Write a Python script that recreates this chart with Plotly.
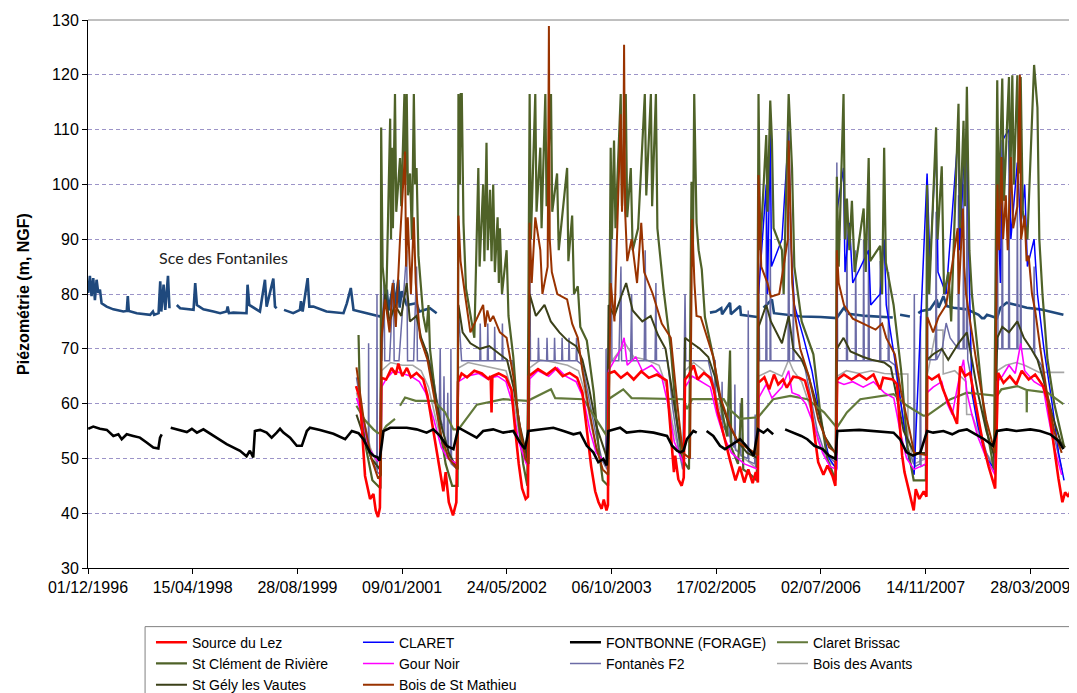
import plotly.graph_objects as go

# ---------------- data (date, level m NGF) ----------------
FONTANILES = [
    ("1996-12-02", 80.2), ("1996-12-10", 83.3), ("1996-12-18", 79.6), ("1996-12-26", 82.9), ("1997-01-03", 78.9),
    ("1997-01-11", 82.6), ("1997-01-19", 80.2), ("1997-01-27", 80.8), ("1997-02-04", 78.3), ("1997-02-28", 77.7),
    ("1997-04-01", 77.2), ("1997-05-19", 76.8), ("1997-06-04", 76.9), ("1997-06-09", 79.6), ("1997-06-14", 76.9),
    ("1997-07-22", 76.5), ("1997-09-24", 76.2), ("1997-10-07", 76.8), ("1997-10-13", 76.2), ("1997-11-03", 76.5),
    ("1997-11-11", 82.3), ("1997-11-16", 76.8), ("1997-11-27", 81.7), ("1997-12-05", 77.1), ("1997-12-18", 83.3),
    ("1997-12-25", 77.4), ("1998-01-10", None),
    ("1998-01-29", 78.0), ("1998-02-14", 77.4), ("1998-04-19", 77.1), ("1998-04-27", 82.0), ("1998-05-05", 78.0),
    ("1998-06-05", 77.2), ("1998-07-23", 76.8), ("1998-08-24", 76.5), ("1998-09-24", 76.8), ("1998-09-29", 77.7),
    ("1998-10-05", 76.5), ("1998-10-26", 76.6), ("1998-12-28", 76.5), ("1999-01-02", 81.7), ("1999-01-10", 78.0),
    ("1999-03-02", 76.8), ("1999-03-26", 82.6), ("1999-04-03", 77.7), ("1999-05-05", 82.8), ("1999-05-13", 77.7),
    ("1999-05-21", 77.4), ("1999-06-08", None),
    ("1999-06-25", 77.1), ("1999-08-08", 76.5), ("1999-09-09", 77.1), ("1999-09-14", 78.7), ("1999-09-22", 76.8),
    ("1999-10-16", 82.9), ("1999-10-24", 77.7), ("1999-11-12", 77.7), ("2000-01-14", 76.8), ("2000-04-04", 76.5),
    ("2000-04-20", 78.3), ("2000-05-09", 81.1), ("2000-05-22", 77.1), ("2000-06-23", 76.8), ("2000-08-25", 76.2),
    ("2000-09-26", 75.9), ("2000-10-12", 76.8), ("2000-10-28", 80.8), ("2000-11-05", 77.0), ("2000-11-29", 82.0),
    ("2000-12-05", 77.5), ("2000-12-22", 82.6), ("2000-12-28", 77.5), ("2001-01-07", 80.5), ("2001-01-31", 78.0),
    ("2001-03-19", 78.3), ("2001-04-01", 76.8), ("2001-05-22", 77.4), ("2001-06-23", 76.5), ("2001-07-15", None),
    ("2005-01-18", 76.6), ("2005-02-15", 76.8), ("2005-03-13", 77.4), ("2005-03-17", 76.3), ("2005-04-24", 78.4),
    ("2005-04-28", 76.3), ("2005-06-11", 77.8), ("2005-06-15", 76.2), ("2005-09-01", 75.8), ("2005-09-05", None),
    ("2005-10-01", 77.5), ("2005-11-10", 79.0), ("2005-11-20", 76.5), ("2006-01-10", 76.3), ("2006-04-01", 75.9),
    ("2006-07-01", 75.8), ("2006-09-15", 75.6), ("2006-10-20", 77.5), ("2006-11-10", 76.4), ("2007-02-01", 76.0),
    ("2007-06-10", 75.7), ("2007-06-30", None),
    ("2007-07-15", 76.2), ("2007-08-31", 75.9), ("2007-09-10", None),
    ("2007-10-10", 76.5), ("2007-10-25", 76.9), ("2007-12-05", 77.2), ("2008-01-06", 79.0), ("2008-01-15", 77.5),
    ("2008-02-07", 79.6), ("2008-02-23", 77.8), ("2008-03-26", 77.5), ("2008-05-29", 77.2), ("2008-07-24", 76.2),
    ("2008-08-09", 75.6), ("2008-08-20", 75.6), ("2008-09-02", 76.2), ("2008-10-20", 75.6), ("2008-11-05", 77.5),
    ("2008-12-05", 78.4), ("2009-01-10", 78.1), ("2009-03-11", 77.5), ("2009-05-14", 77.2), ("2009-08-01", 76.5),
    ("2009-09-02", 76.2),
]

FONTBONNE = [
    ("1996-12-02", 55.4), ("1996-12-26", 55.8), ("1997-01-27", 55.4), ("1997-03-01", 55.2), ("1997-04-01", 54.1),
    ("1997-04-25", 54.4), ("1997-05-11", 53.5), ("1997-06-04", 54.4), ("1997-07-05", 54.1), ("1997-08-06", 53.8),
    ("1997-09-07", 52.9), ("1997-10-09", 52.0), ("1997-11-02", 51.8), ("1997-11-10", 53.8), ("1997-11-18", 54.4),
    ("1997-12-10", None),
    ("1997-12-31", 55.6), ("1998-02-14", 55.2), ("1998-03-18", 54.8), ("1998-04-11", 55.4), ("1998-05-05", 54.7),
    ("1998-06-05", 55.3), ("1998-07-23", 54.1), ("1998-09-24", 52.6), ("1998-11-27", 51.4), ("1998-12-28", 50.4),
    ("1999-01-13", 51.4), ("1999-01-29", 50.2), ("1999-02-06", 55.0), ("1999-03-03", 55.2), ("1999-04-03", 54.7),
    ("1999-04-27", 53.8), ("1999-05-21", 54.7), ("1999-06-06", 55.4), ("1999-06-22", 54.7), ("1999-07-24", 53.8),
    ("1999-08-25", 52.3), ("1999-09-18", 52.3), ("1999-10-12", 55.0), ("1999-10-27", 55.6), ("1999-12-14", 55.2),
    ("2000-02-16", 54.5), ("2000-04-12", 53.5), ("2000-05-14", 55.0), ("2000-06-15", 54.6), ("2000-07-08", 53.5),
    ("2000-08-09", 51.1), ("2000-08-25", 50.5), ("2000-09-13", 50.2), ("2000-09-23", 49.6), ("2000-10-05", 52.9),
    ("2000-10-12", 55.0), ("2000-11-13", 55.6), ("2001-01-31", 55.6), ("2001-03-19", 55.3), ("2001-05-06", 54.7),
    ("2001-06-07", 55.3), ("2001-07-09", 54.1), ("2001-08-10", 52.3), ("2001-09-11", 51.7), ("2001-10-05", 55.6),
    ("2001-11-14", 54.8), ("2001-12-31", 53.8), ("2002-01-31", 55.0), ("2002-03-20", 55.3), ("2002-05-07", 54.7),
    ("2002-06-24", 55.0), ("2002-07-26", 52.9), ("2002-08-19", 51.7), ("2002-09-04", 55.0), ("2002-10-30", 55.3),
    ("2003-01-01", 55.6), ("2003-02-19", 55.0), ("2003-04-07", 54.4), ("2003-05-09", 54.7), ("2003-06-10", 52.3),
    ("2003-07-11", 51.1), ("2003-08-04", 49.3), ("2003-08-28", 49.9), ("2003-09-13", 48.7), ("2003-09-21", 55.0),
    ("2003-11-16", 55.6), ("2003-12-17", 54.7), ("2004-02-19", 55.0), ("2004-04-24", 54.7), ("2004-06-27", 54.1),
    ("2004-07-21", 52.3), ("2004-08-14", 51.4), ("2004-08-29", 51.1), ("2004-09-14", 51.4), ("2004-09-30", 53.5),
    ("2004-10-31", 55.0), ("2004-11-16", 54.7), ("2004-12-10", None),
    ("2005-01-02", 55.0), ("2005-02-03", 54.1), ("2005-03-07", 52.3), ("2005-03-31", 51.7), ("2005-04-24", 52.3),
    ("2005-05-26", 53.2), ("2005-06-11", 53.5), ("2005-07-10", 52.3), ("2005-08-15", 50.5), ("2005-09-05", 55.3),
    ("2005-10-01", 54.7), ("2005-10-20", 55.3), ("2005-11-16", 54.4), ("2005-12-15", None),
    ("2006-01-12", 55.3), ("2006-02-20", 54.7), ("2006-03-30", 54.1), ("2006-04-28", 53.5), ("2006-06-01", 52.3),
    ("2006-07-10", 51.7), ("2006-08-10", 50.5), ("2006-09-10", 49.9), ("2006-09-18", 55.0), ("2007-01-01", 55.2),
    ("2007-06-14", 54.7), ("2007-07-15", 53.5), ("2007-08-15", 51.1), ("2007-09-15", 50.5), ("2007-10-20", 51.1),
    ("2007-11-21", 55.0), ("2007-12-20", 54.7), ("2008-02-07", 55.0), ("2008-03-20", 54.4), ("2008-04-20", 55.0),
    ("2008-05-29", 55.3), ("2008-07-10", 54.4), ("2008-08-20", 53.5), ("2008-10-01", 52.3), ("2008-10-20", 55.0),
    ("2008-12-05", 55.3), ("2009-01-20", 55.0), ("2009-03-28", 55.3), ("2009-05-14", 55.0), ("2009-07-01", 54.4),
    ("2009-08-10", 53.2), ("2009-09-02", 51.7),
]

LEZ = [
    ("2000-06-03", 63.2), ("2000-06-22", 60.8), ("2000-07-16", 46.8), ("2000-08-09", 42.6), ("2000-08-25", 43.5),
    ("2000-09-05", 40.5), ("2000-09-16", 39.3), ("2000-09-25", 41.0), ("2000-10-02", 64.7), ("2000-10-25", 64.4),
    ("2000-11-20", 66.5), ("2000-12-10", 65.3), ("2000-12-22", 67.3), ("2001-01-10", 65.0), ("2001-02-01", 66.5),
    ("2001-02-20", 64.8), ("2001-03-19", 65.6), ("2001-04-20", 64.4), ("2001-05-10", 61.5), ("2001-06-07", 55.0),
    ("2001-06-25", 50.5), ("2001-07-10", 47.0), ("2001-07-25", 44.0), ("2001-08-05", 47.5), ("2001-08-20", 42.0),
    ("2001-09-09", 39.6), ("2001-09-25", 42.0), ("2001-10-03", 64.0), ("2001-10-20", 65.5), ("2001-11-15", 64.8),
    ("2001-12-20", 66.0), ("2002-01-25", 65.5), ("2002-02-25", 64.5), ("2002-03-08", 65.0), ("2002-03-12", 58.4),
    ("2002-03-16", 65.0), ("2002-04-15", 65.5), ("2002-05-20", 64.8), ("2002-06-15", 62.5), ("2002-07-01", 56.0),
    ("2002-07-20", 49.0), ("2002-08-05", 44.5), ("2002-08-22", 42.6), ("2002-09-02", 43.0), ("2002-09-06", 65.0),
    ("2002-10-20", 66.3), ("2002-12-01", 65.3), ("2003-01-10", 66.5), ("2003-02-15", 65.0), ("2003-03-20", 65.6),
    ("2003-04-25", 64.7), ("2003-05-20", 62.0), ("2003-06-10", 55.5), ("2003-07-01", 48.5), ("2003-07-20", 44.0),
    ("2003-08-05", 42.0), ("2003-08-20", 40.8), ("2003-08-30", 42.5), ("2003-09-12", 40.5), ("2003-09-19", 41.5),
    ("2003-09-22", 65.5), ("2003-10-20", 65.9), ("2003-11-20", 64.7), ("2003-12-20", 65.6), ("2004-01-20", 64.4),
    ("2004-02-25", 65.9), ("2004-04-01", 64.7), ("2004-05-10", 65.3), ("2004-06-25", 64.2), ("2004-07-05", 59.0),
    ("2004-07-20", 52.3), ("2004-07-30", 47.5), ("2004-08-05", 50.5), ("2004-08-20", 46.2), ("2004-09-05", 45.0),
    ("2004-09-15", 46.5), ("2004-09-21", 64.4), ("2004-10-10", 65.3), ("2004-11-01", 67.0), ("2004-11-20", 64.4),
    ("2004-12-20", 65.6), ("2005-01-20", 64.7), ("2005-02-05", 62.6), ("2005-02-25", 58.5), ("2005-03-20", 55.0),
    ("2005-04-10", 51.5), ("2005-04-25", 49.5), ("2005-05-20", 46.0), ("2005-06-10", 48.5), ("2005-07-01", 45.6),
    ("2005-07-20", 48.0), ("2005-08-10", 45.5), ("2005-08-25", 47.5), ("2005-09-04", 45.6), ("2005-09-06", 63.8),
    ("2005-10-05", 64.8), ("2005-10-28", 62.6), ("2005-11-20", 65.3), ("2005-12-10", 63.5), ("2006-01-02", 64.4),
    ("2006-01-20", 62.9), ("2006-02-20", 64.9), ("2006-03-20", 64.7), ("2006-04-17", 64.2), ("2006-05-11", 60.8),
    ("2006-06-04", 53.5), ("2006-06-19", 49.3), ("2006-07-14", 47.0), ("2006-08-02", 48.7), ("2006-08-26", 46.8),
    ("2006-09-09", 45.0), ("2006-09-18", 64.4), ("2006-10-20", 65.3), ("2006-11-25", 64.4), ("2007-01-01", 65.3),
    ("2007-02-05", 64.4), ("2007-03-10", 65.3), ("2007-04-10", 62.6), ("2007-04-25", 64.7), ("2007-06-10", 64.4),
    ("2007-07-01", 63.5), ("2007-07-10", 57.8), ("2007-07-25", 50.5), ("2007-08-05", 47.5), ("2007-08-20", 45.0),
    ("2007-09-05", 42.6), ("2007-09-18", 40.5), ("2007-09-28", 44.4), ("2007-10-15", 42.6), ("2007-11-05", 44.0),
    ("2007-11-18", 43.0), ("2007-11-22", 65.0), ("2007-12-14", 64.4), ("2008-01-15", 65.2), ("2008-02-05", 62.6),
    ("2008-03-01", 60.2), ("2008-03-19", 58.4), ("2008-04-12", 56.3), ("2008-04-27", 66.8), ("2008-05-20", 65.0),
    ("2008-06-13", 65.6), ("2008-06-30", 62.0), ("2008-07-17", 58.0), ("2008-08-15", 52.5), ("2008-09-10", 48.5),
    ("2008-10-11", 44.5), ("2008-10-25", 65.6), ("2008-11-20", 63.8), ("2008-12-20", 65.0), ("2009-01-20", 63.5),
    ("2009-02-15", 66.0), ("2009-03-20", 64.4), ("2009-04-20", 65.3), ("2009-05-28", 63.2), ("2009-06-18", 60.6),
    ("2009-07-16", 52.6), ("2009-08-09", 46.4), ("2009-08-28", 42.0), ("2009-09-10", 43.8), ("2009-09-26", 43.0),
    ("2009-10-05", 44.0),
]

CLARET = [
    ("2005-09-07", 80.0), ("2005-10-14", 100.0), ("2005-10-20", 80.0), ("2005-11-02", 110.0), ("2005-11-08", 85.0),
    ("2005-12-28", 90.0), ("2006-01-29", 109.7), ("2006-02-10", 88.5), ("2006-02-25", 78.0), ("2006-04-10", 72.0),
    ("2006-05-20", 66.0), ("2006-07-01", 57.0), ("2006-08-10", 50.0), ("2006-09-15", 48.0), ("2006-09-16", 95.0),
    ("2006-10-18", 103.0), ("2006-10-25", 84.0), ("2006-11-15", 93.0), ("2006-12-01", 82.0), ("2007-01-22", 86.0),
    ("2007-02-15", 88.0), ("2007-02-25", 78.0), ("2007-04-11", 80.0), ("2007-04-30", 90.0), ("2007-05-10", 78.0),
    ("2007-06-20", 68.0), ("2007-07-25", 58.0), ("2007-08-25", 50.0), ("2007-09-20", 47.0), ("2007-11-21", 102.0),
    ("2007-12-05", 85.0), ("2008-01-03", 108.0), ("2008-01-12", 84.0), ("2008-02-20", 80.0), ("2008-04-19", 110.0),
    ("2008-04-25", 88.0), ("2008-05-13", 103.0), ("2008-05-29", 108.0), ("2008-06-10", 82.0), ("2008-06-22", 62.0),
    ("2008-07-20", 56.0), ("2008-08-30", 50.0), ("2008-10-10", 48.0), ("2008-10-21", 100.0), ("2008-11-05", 82.0),
    ("2008-11-14", 108.0), ("2008-12-16", 110.0), ("2008-12-25", 90.0), ("2009-01-25", 104.0), ("2009-02-10", 92.0),
    ("2009-03-01", 100.0), ("2009-03-14", 85.0), ("2009-04-15", 90.0), ("2009-05-01", 80.0), ("2009-06-01", 70.0),
    ("2009-07-10", 60.0), ("2009-08-10", 51.0), ("2009-09-05", 46.0),
]

CLARET_BRISSAC = [
    ("2000-06-05", 59.6), ("2000-07-15", 57.0), ("2000-08-25", 55.3), ("2000-09-13", 54.7), ("2000-10-01", 54.5),
    ("2000-10-25", 55.9), ("2000-12-06", 57.2), ("2000-12-18", None), ("2000-12-30", 59.6), ("2001-01-23", 61.1),
    ("2001-03-15", 60.5), ("2001-06-07", 60.5), ("2001-08-01", 58.5), ("2001-09-11", 55.3), ("2001-10-05", 55.3),
    ("2001-11-15", 57.5), ("2002-01-01", 59.8), ("2002-05-07", 60.8), ("2002-08-01", 60.5), ("2002-09-01", 60.5),
    ("2002-12-21", 62.6), ("2003-01-10", 61.0), ("2003-05-25", 60.8), ("2003-07-15", 57.8), ("2003-09-13", 54.1),
    ("2003-09-21", 60.8), ("2003-12-01", 62.6), ("2004-01-10", 61.0), ("2004-09-14", 60.8), ("2004-09-30", 59.0),
    ("2004-10-25", 60.8), ("2005-03-25", 60.8), ("2005-04-20", 59.0), ("2005-06-11", 57.2), ("2005-09-05", 57.5),
    ("2005-11-16", 60.8), ("2006-02-06", 61.4), ("2006-04-28", 60.8), ("2006-07-17", 58.4), ("2006-09-16", 55.6),
    ("2006-11-03", 58.4), ("2007-01-06", 60.8), ("2007-06-14", 61.7), ("2007-08-18", 59.6), ("2007-11-03", 57.8),
    ("2007-11-21", 57.8), ("2008-03-12", 60.8), ("2008-05-29", 62.0), ("2008-10-20", 61.4), ("2008-11-10", 62.6),
    ("2009-01-25", 63.2), ("2009-03-10", 62.5), ("2009-03-11", 58.4), ("2009-03-12", 62.5), ("2009-06-18", 62.0),
    ("2009-09-02", 59.9),
]

ST_CLEMENT = [
    ("2000-06-15", 72.5), ("2000-06-22", 60.0), ("2000-07-20", 52.0), ("2000-08-20", 46.0), ("2000-09-28", 44.5),
    ("2000-10-01", 110.4), ("2000-10-08", 85.0), ("2000-10-25", 78.0), ("2000-11-13", 112.0), ("2000-11-17", 90.0),
    ("2000-11-21", 106.7), ("2000-11-26", 92.0), ("2000-12-06", 116.5), ("2000-12-12", 95.0), ("2000-12-30", 104.8),
    ("2001-01-05", 96.0), ("2001-01-20", 116.5), ("2001-01-24", 100.0), ("2001-01-31", 116.5), ("2001-02-06", 98.0),
    ("2001-02-16", 102.0), ("2001-02-25", 90.0), ("2001-03-06", 116.5), ("2001-03-12", 100.0), ("2001-03-19", 103.0),
    ("2001-03-28", 87.0), ("2001-04-20", 76.0), ("2001-05-05", 73.0), ("2001-05-15", 78.0), ("2001-05-22", 70.0),
    ("2001-06-15", 62.0), ("2001-07-10", 55.0), ("2001-08-05", 49.0), ("2001-09-05", 45.0), ("2001-10-01", 45.0),
    ("2001-10-05", 116.5), ("2001-10-12", 100.0), ("2001-10-16", 116.5), ("2001-10-21", 116.5), ("2001-10-29", 93.0),
    ("2001-11-10", 81.0), ("2001-12-01", 76.0), ("2001-12-20", 72.0), ("2002-01-08", 103.0), ("2002-01-14", 85.0),
    ("2002-01-31", 100.0), ("2002-02-06", 86.0), ("2002-02-16", 107.6), ("2002-02-22", 88.0), ("2002-03-05", 99.0),
    ("2002-03-12", 86.0), ("2002-03-20", 100.0), ("2002-03-28", 84.0), ("2002-04-10", 94.0), ("2002-04-16", 82.0),
    ("2002-04-21", 92.0), ("2002-05-01", 80.0), ("2002-05-23", 88.0), ("2002-06-01", 76.0), ("2002-06-24", 68.5),
    ("2002-07-15", 58.0), ("2002-08-10", 49.0), ("2002-08-30", 45.0), ("2002-09-10", 116.5), ("2002-09-16", 90.0),
    ("2002-10-07", 116.5), ("2002-10-13", 95.0), ("2002-10-31", 106.7), ("2002-11-06", 92.0), ("2002-11-24", 116.5),
    ("2002-11-30", 96.0), ("2002-12-21", 116.5), ("2002-12-27", 95.0), ("2003-01-19", 102.0), ("2003-01-27", 88.0),
    ("2003-03-08", 103.0), ("2003-03-14", 86.0), ("2003-04-01", 94.3), ("2003-04-10", 80.0), ("2003-04-28", 81.4),
    ("2003-05-10", 74.0), ("2003-06-10", 71.5), ("2003-07-13", 62.0), ("2003-08-05", 52.0), ("2003-08-25", 46.0),
    ("2003-09-20", 45.0), ("2003-10-02", 106.7), ("2003-10-08", 90.0), ("2003-10-18", 108.0), ("2003-10-25", 92.0),
    ("2003-11-19", 116.5), ("2003-11-25", 96.0), ("2003-12-13", 116.5), ("2003-12-20", 94.0), ("2004-01-06", 103.0),
    ("2004-01-15", 88.0), ("2004-02-10", 92.0), ("2004-03-13", 116.5), ("2004-03-20", 98.0), ("2004-04-11", 116.5),
    ("2004-04-17", 96.0), ("2004-05-05", 116.5), ("2004-05-12", 92.0), ("2004-06-10", 81.0), ("2004-07-15", 70.0),
    ("2004-08-10", 58.0), ("2004-09-05", 50.0), ("2004-10-10", 48.0), ("2004-10-22", 100.5), ("2004-10-28", 85.0),
    ("2004-11-04", 116.5), ("2004-11-15", 93.0), ("2004-11-25", 88.0), ("2004-12-10", 84.5), ("2004-12-25", 75.8),
    ("2005-02-03", 68.5), ("2005-03-10", 60.0), ("2005-04-10", 54.0), ("2005-04-24", 69.7), ("2005-04-30", 52.0),
    ("2005-06-01", 49.0), ("2005-06-20", 61.0), ("2005-06-26", 48.0), ("2005-08-01", 47.0), ("2005-08-30", 46.0),
    ("2005-09-07", 116.5), ("2005-09-15", 88.0), ("2005-10-14", 109.0), ("2005-10-20", 95.0), ("2005-11-02", 115.3),
    ("2005-11-10", 108.0), ("2005-11-18", 92.0), ("2005-12-28", 88.0), ("2006-01-05", 80.0), ("2006-01-29", 116.5),
    ("2006-02-14", 103.0), ("2006-02-25", 85.0), ("2006-04-01", 75.0), ("2006-05-27", 69.0), ("2006-06-30", 58.0),
    ("2006-08-01", 50.0), ("2006-09-10", 46.0), ("2006-09-16", 101.4), ("2006-09-25", 85.0), ("2006-10-18", 116.5),
    ("2006-10-25", 90.0), ("2006-11-03", 97.4), ("2006-11-15", 88.0), ("2006-11-27", 97.0), ("2006-12-10", 84.0),
    ("2007-01-22", 95.6), ("2007-02-01", 84.0), ("2007-02-15", 104.8), ("2007-02-22", 86.0), ("2007-04-11", 88.8),
    ("2007-04-20", 80.0), ("2007-04-30", 106.7), ("2007-05-08", 85.7), ("2007-06-14", 78.0), ("2007-07-20", 66.0),
    ("2007-08-20", 52.0), ("2007-09-18", 46.0), ("2007-11-15", 46.0), ("2007-11-21", 99.9), ("2007-12-01", 80.0),
    ("2008-01-03", 110.4), ("2008-01-10", 90.0), ("2008-01-30", 103.3), ("2008-02-10", 80.0), ("2008-03-02", 84.0),
    ("2008-03-15", 75.0), ("2008-04-19", 114.7), ("2008-04-26", 92.0), ("2008-05-13", 111.6), ("2008-05-20", 96.0),
    ("2008-05-29", 117.8), ("2008-06-10", 88.0), ("2008-06-22", 80.0), ("2008-07-20", 70.0), ("2008-08-20", 58.0),
    ("2008-10-05", 48.0), ("2008-10-21", 119.0), ("2008-10-28", 95.0), ("2008-11-14", 119.3), ("2008-11-22", 97.0),
    ("2008-12-16", 119.6), ("2008-12-22", 100.0), ("2009-01-01", 119.9), ("2009-01-08", 100.0), ("2009-01-25", 119.9),
    ("2009-02-01", 102.0), ("2009-02-10", 119.6), ("2009-02-20", 95.0), ("2009-03-14", 90.0), ("2009-04-15", 121.8),
    ("2009-05-01", 114.0), ("2009-05-10", 90.0), ("2009-05-25", 80.0), ("2009-06-18", 68.0), ("2009-07-20", 60.0),
    ("2009-09-06", 52.0),
]

GOUR_NOIR = [
    ("2000-06-05", 61.0), ("2000-07-01", 58.0), ("2000-08-01", 52.0), ("2000-09-12", 49.6), ("2000-10-01", 49.5),
    ("2000-10-03", 63.0), ("2000-10-25", 64.5), ("2000-11-30", 66.0), ("2001-01-10", 65.5), ("2001-02-20", 65.0),
    ("2001-04-01", 64.0), ("2001-05-01", 62.0), ("2001-06-10", 57.0), ("2001-07-15", 52.0), ("2001-08-15", 50.0),
    ("2001-09-30", 49.0), ("2001-10-05", 64.0), ("2001-11-15", 65.0), ("2002-01-10", 65.5), ("2002-02-20", 64.5),
    ("2002-04-10", 65.0), ("2002-05-20", 64.0), ("2002-06-20", 60.0), ("2002-07-20", 53.0), ("2002-08-25", 49.0),
    ("2002-09-04", 48.5), ("2002-09-10", 64.5), ("2002-10-20", 66.0), ("2002-12-10", 65.0), ("2003-01-20", 66.5),
    ("2003-03-01", 65.0), ("2003-04-20", 64.0), ("2003-05-25", 61.0), ("2003-06-25", 55.0), ("2003-07-25", 51.0),
    ("2003-09-15", 49.0), ("2003-09-22", 66.0), ("2003-10-20", 68.0), ("2003-11-20", 70.0), ("2003-12-05", 72.0),
    ("2003-12-20", 67.0), ("2004-01-30", 68.5), ("2004-03-01", 66.0), ("2004-04-15", 67.0), ("2004-06-01", 65.0),
    ("2004-07-01", 60.0), ("2004-08-01", 53.0), ("2004-09-15", 49.0), ("2004-09-21", 63.0), ("2004-10-25", 65.0),
    ("2004-12-05", 64.0), ("2005-01-20", 63.0), ("2005-02-20", 58.0), ("2005-03-25", 54.0), ("2005-05-01", 51.0),
    ("2005-07-01", 49.0), ("2005-09-05", 48.0), ("2005-09-07", 61.0), ("2005-10-14", 63.5), ("2005-11-10", 61.0),
    ("2005-12-28", 63.0), ("2006-01-29", 66.0), ("2006-02-14", 62.0), ("2006-03-20", 61.5), ("2006-04-20", 60.0),
    ("2006-05-30", 56.0), ("2006-07-10", 51.0), ("2006-08-15", 48.5), ("2006-09-15", 48.0), ("2006-09-18", 64.0),
    ("2006-10-20", 63.5), ("2006-12-01", 64.0), ("2007-01-20", 63.0), ("2007-03-10", 64.0), ("2007-04-30", 62.0),
    ("2007-06-15", 61.0), ("2007-07-15", 55.0), ("2007-08-15", 50.0), ("2007-09-20", 48.0), ("2007-11-15", 49.0),
    ("2007-11-21", 62.0), ("2007-12-20", 63.0), ("2008-01-30", 64.0), ("2008-02-25", 60.0), ("2008-03-20", 58.0),
    ("2008-04-19", 64.0), ("2008-05-13", 68.0), ("2008-05-29", 62.0), ("2008-06-22", 58.0), ("2008-07-20", 54.0),
    ("2008-08-30", 50.0), ("2008-10-10", 47.0), ("2008-10-21", 64.0), ("2008-11-14", 65.0), ("2008-12-16", 67.0),
    ("2009-01-15", 65.5), ("2009-02-10", 71.0), ("2009-03-01", 66.0), ("2009-04-15", 64.0), ("2009-05-28", 63.0),
    ("2009-06-20", 58.0), ("2009-07-20", 52.0), ("2009-08-25", 47.0),
]

FONTANES_F2 = [
    ("2000-06-05", 64.8), ("2000-06-25", 60.0), ("2000-07-20", 55.0), ("2000-08-01", 52.0), ("2000-08-02", 71.0),
    ("2000-08-04", 51.0), ("2000-08-25", 49.0), ("2000-09-10", 48.0), ("2000-09-11", 80.0), ("2000-09-13", 47.5),
    ("2000-09-28", 47.0), ("2000-10-01", 90.0), ("2000-10-04", 67.8), ("2000-10-15", 82.0), ("2000-10-18", 67.8),
    ("2000-11-10", 67.8), ("2000-11-29", 82.6), ("2000-12-02", 67.8), ("2000-12-25", 67.8), ("2001-01-31", 88.0),
    ("2001-02-04", 67.8), ("2001-03-05", 67.8), ("2001-03-19", 85.0), ("2001-03-23", 67.8), ("2001-05-20", 67.8),
    ("2001-06-10", 64.0), ("2001-07-05", 58.0), ("2001-07-10", 70.0), ("2001-07-13", 57.0), ("2001-07-25", 55.0),
    ("2001-07-28", 65.0), ("2001-07-31", 54.0), ("2001-08-12", 52.0), ("2001-08-15", 62.0), ("2001-08-18", 51.0),
    ("2001-08-28", 50.0), ("2001-08-30", 70.0), ("2001-09-02", 49.0), ("2001-09-30", 48.0), ("2001-10-05", 77.0),
    ("2001-10-20", 67.8), ("2002-01-15", 67.8), ("2002-01-17", 74.6), ("2002-01-20", 67.8), ("2002-02-20", 67.8),
    ("2002-02-22", 74.6), ("2002-02-25", 67.8), ("2002-03-25", 67.8), ("2002-03-27", 74.0), ("2002-03-30", 67.8),
    ("2002-05-01", 67.8), ("2002-05-03", 74.6), ("2002-05-06", 67.8), ("2002-06-20", 67.8), ("2002-07-10", 60.0),
    ("2002-08-05", 53.0), ("2002-08-30", 49.0), ("2002-09-10", 92.0), ("2002-09-14", 67.8), ("2002-10-20", 67.8),
    ("2002-10-22", 72.0), ("2002-10-25", 67.8), ("2002-11-30", 67.8), ("2002-12-02", 72.0), ("2002-12-05", 67.8),
    ("2003-01-05", 67.8), ("2003-01-07", 72.0), ("2003-01-10", 67.8), ("2003-02-10", 67.8), ("2003-02-12", 72.0),
    ("2003-02-15", 67.8), ("2003-03-15", 67.8), ("2003-03-17", 72.0), ("2003-03-20", 67.8), ("2003-04-20", 67.8),
    ("2003-04-22", 72.0), ("2003-04-25", 67.8), ("2003-05-20", 67.0), ("2003-06-20", 61.0), ("2003-07-20", 55.0),
    ("2003-08-20", 50.0), ("2003-09-08", 48.5), ("2003-09-10", 70.0), ("2003-09-13", 48.0), ("2003-09-22", 67.8),
    ("2003-10-05", 95.0), ("2003-10-08", 67.8), ("2003-11-10", 67.8), ("2003-11-20", 85.0), ("2003-11-23", 67.8),
    ("2004-01-05", 67.8), ("2004-01-10", 80.0), ("2004-01-13", 67.8), ("2004-03-10", 67.8), ("2004-03-15", 88.0),
    ("2004-03-18", 67.8), ("2004-05-01", 67.8), ("2004-05-05", 82.0), ("2004-05-08", 67.8), ("2004-06-30", 67.8),
    ("2004-07-25", 59.0), ("2004-08-20", 52.0), ("2004-09-10", 48.0), ("2004-09-21", 80.0), ("2004-09-25", 67.8),
    ("2005-01-10", 67.8), ("2005-02-01", 64.0), ("2005-02-10", 62.0), ("2005-02-12", 68.0), ("2005-02-15", 60.0),
    ("2005-03-15", 57.0), ("2005-03-17", 64.0), ("2005-03-20", 56.0), ("2005-04-20", 54.0), ("2005-04-22", 66.0),
    ("2005-04-25", 53.0), ("2005-05-15", 52.0), ("2005-05-17", 63.5), ("2005-05-20", 51.5), ("2005-06-10", 51.0),
    ("2005-06-12", 60.0), ("2005-06-15", 50.5), ("2005-07-18", 50.0), ("2005-07-20", 77.0), ("2005-07-22", 49.5),
    ("2005-08-20", 49.0), ("2005-08-22", 58.0), ("2005-08-25", 48.5), ("2005-09-05", 48.0), ("2005-09-07", 88.0),
    ("2005-09-12", 67.8), ("2005-10-12", 67.8), ("2005-10-14", 98.0), ("2005-10-17", 67.8), ("2005-11-01", 67.8),
    ("2005-11-02", 90.0), ("2005-11-05", 67.8), ("2006-01-26", 67.8), ("2006-01-29", 95.0), ("2006-02-02", 67.8),
    ("2006-02-18", 67.8), ("2006-02-20", 80.0), ("2006-02-23", 67.8), ("2006-04-10", 67.8), ("2006-05-10", 62.0),
    ("2006-06-15", 55.0), ("2006-07-20", 51.0), ("2006-09-14", 49.0), ("2006-09-16", 104.0), ("2006-09-20", 67.8),
    ("2006-11-01", 67.8), ("2006-11-03", 95.0), ("2006-11-06", 67.8), ("2006-12-13", 67.8), ("2006-12-15", 88.0),
    ("2006-12-18", 67.8), ("2007-01-20", 67.8), ("2007-01-22", 90.0), ("2007-01-25", 67.8), ("2007-02-13", 67.8),
    ("2007-02-15", 100.0), ("2007-02-18", 67.8), ("2007-04-09", 67.8), ("2007-04-11", 86.0), ("2007-04-14", 67.8),
    ("2007-05-19", 67.8), ("2007-05-21", 84.0), ("2007-05-24", 67.8), ("2007-06-20", 67.0), ("2007-07-20", 60.0),
    ("2007-08-20", 52.0), ("2007-09-18", 49.0), ("2007-09-21", 80.0), ("2007-09-24", 48.5), ("2007-10-18", 49.0),
    ("2007-10-20", 76.0), ("2007-10-23", 48.5), ("2007-11-18", 49.0), ("2007-11-21", 85.0), ("2007-11-25", 68.0),
    ("2008-01-01", 68.0), ("2008-01-03", 95.0), ("2008-01-06", 68.0), ("2008-02-01", 70.0), ("2008-02-20", 74.7),
    ("2008-03-10", 72.0), ("2008-04-17", 70.0), ("2008-04-19", 98.0), ("2008-04-22", 70.0), ("2008-05-11", 70.0),
    ("2008-05-13", 100.0), ("2008-05-16", 70.0), ("2008-05-27", 70.0), ("2008-05-29", 105.0), ("2008-06-02", 68.0),
    ("2008-06-22", 64.0), ("2008-07-20", 57.0), ("2008-08-30", 51.0), ("2008-10-10", 47.5), ("2008-10-21", 98.0),
    ("2008-10-25", 70.0), ("2008-11-12", 70.0), ("2008-11-14", 105.0), ("2008-11-17", 70.0), ("2008-12-14", 70.0),
    ("2008-12-16", 108.0), ("2008-12-19", 70.0), ("2009-01-23", 70.0), ("2009-01-25", 100.0), ("2009-01-28", 70.0),
    ("2009-02-08", 70.0), ("2009-02-10", 95.0), ("2009-02-13", 70.0), ("2009-04-13", 70.0), ("2009-04-15", 85.0),
    ("2009-04-18", 69.0), ("2009-05-20", 67.0), ("2009-06-20", 60.0), ("2009-07-20", 54.0), ("2009-08-25", 48.0),
]

BOIS_AVANTS = [
    ("2000-06-05", 62.0), ("2000-07-10", 57.0), ("2000-08-10", 52.0), ("2000-09-15", 48.5), ("2000-10-01", 48.5),
    ("2000-10-03", 66.0), ("2000-11-15", 67.5), ("2001-01-10", 67.0), ("2001-03-01", 67.0), ("2001-04-10", 66.0),
    ("2001-05-15", 63.0), ("2001-06-20", 57.0), ("2001-07-25", 52.0), ("2001-09-01", 49.0), ("2001-10-01", 48.0),
    ("2001-10-05", 66.5), ("2001-11-20", 67.5), ("2002-01-20", 67.0), ("2002-03-20", 66.5), ("2002-05-20", 66.0),
    ("2002-06-20", 62.0), ("2002-07-20", 55.0), ("2002-08-25", 50.0), ("2002-09-05", 49.0), ("2002-09-10", 66.5),
    ("2002-11-01", 68.0), ("2003-01-10", 67.5), ("2003-03-10", 67.0), ("2003-05-01", 66.0), ("2003-06-01", 62.0),
    ("2003-07-01", 56.0), ("2003-08-01", 51.0), ("2003-09-15", 48.0), ("2003-09-22", 67.0), ("2003-11-01", 69.0),
    ("2003-12-10", 71.0), ("2004-01-20", 68.5), ("2004-03-20", 68.0), ("2004-05-20", 67.0), ("2004-06-25", 63.0),
    ("2004-07-25", 56.0), ("2004-08-25", 51.0), ("2004-09-15", 49.0), ("2004-09-21", 66.0), ("2004-11-01", 67.5),
    ("2004-12-20", 66.0), ("2005-01-25", 64.0), ("2005-02-25", 60.0), ("2005-04-01", 56.0), ("2005-05-15", 52.0),
    ("2005-07-01", 50.0), ("2005-09-05", 48.0), ("2005-09-07", 65.0), ("2005-11-01", 66.0), ("2005-12-28", 65.0),
    ("2006-01-29", 68.0), ("2006-02-20", 66.0), ("2006-04-01", 64.0), ("2006-05-15", 59.0), ("2006-06-20", 53.0),
    ("2006-08-01", 49.5), ("2006-09-15", 48.5), ("2006-09-18", 65.0), ("2006-11-01", 66.0), ("2007-01-01", 65.5),
    ("2007-03-01", 66.0), ("2007-05-01", 65.5), ("2007-06-14", 65.4), ("2007-08-21", 65.4), ("2007-08-22", 54.0),
    ("2007-09-20", 49.0), ("2007-11-15", 50.0), ("2007-11-21", 65.0), ("2008-01-03", 73.4), ("2008-02-05", 73.4),
    ("2008-02-06", 65.4), ("2008-04-01", 66.0), ("2008-05-25", 64.0), ("2008-05-28", 58.0), ("2008-06-22", 58.0),
    ("2008-07-20", 55.0), ("2008-08-30", 51.0), ("2008-10-10", 48.5), ("2008-10-21", 66.0), ("2008-12-01", 67.0),
    ("2009-01-20", 67.5), ("2009-03-01", 67.0), ("2009-05-10", 65.7), ("2009-09-06", 65.7),
]

ST_GELY = [
    ("2000-06-05", 58.0), ("2000-07-10", 54.0), ("2000-08-15", 50.0), ("2000-09-25", 48.0), ("2000-10-02", 72.0),
    ("2000-10-20", 80.0), ("2000-11-10", 75.0), ("2000-12-06", 78.0), ("2001-01-05", 76.0), ("2001-01-31", 82.0),
    ("2001-02-15", 75.0), ("2001-03-19", 76.0), ("2001-04-10", 72.0), ("2001-05-10", 69.0), ("2001-06-10", 63.0),
    ("2001-07-15", 56.0), ("2001-08-20", 51.0), ("2001-09-30", 48.0), ("2001-10-05", 78.0), ("2001-10-25", 73.0),
    ("2001-12-01", 71.0), ("2002-01-15", 70.0), ("2002-03-01", 70.5), ("2002-04-20", 69.0), ("2002-05-25", 68.0),
    ("2002-06-25", 63.0), ("2002-07-25", 56.0), ("2002-08-30", 50.0), ("2002-09-10", 80.0), ("2002-10-10", 76.0),
    ("2002-11-20", 78.0), ("2002-12-20", 75.0), ("2003-01-30", 73.0), ("2003-03-10", 71.5), ("2003-04-20", 70.5),
    ("2003-05-20", 68.0), ("2003-06-20", 63.0), ("2003-07-25", 56.0), ("2003-09-15", 50.0), ("2003-09-22", 78.0),
    ("2003-10-20", 76.0), ("2003-11-25", 80.0), ("2003-12-15", 82.0), ("2004-01-15", 77.0), ("2004-03-01", 75.0),
    ("2004-04-10", 76.0), ("2004-05-15", 72.5), ("2004-06-20", 70.0), ("2004-07-20", 63.0), ("2004-08-20", 55.0),
    ("2004-09-15", 51.0), ("2004-09-21", 72.0), ("2004-10-25", 71.0), ("2004-12-01", 70.0), ("2005-01-10", 68.5),
    ("2005-02-10", 65.0), ("2005-03-15", 60.0), ("2005-04-20", 56.0), ("2005-06-01", 53.0), ("2005-07-15", 51.0),
    ("2005-09-05", 50.0), ("2005-09-07", 74.0), ("2005-10-14", 78.0), ("2005-11-05", 75.0), ("2005-12-28", 71.0),
    ("2006-01-29", 76.0), ("2006-02-20", 70.0), ("2006-04-01", 68.0), ("2006-05-01", 65.4), ("2006-06-10", 60.0),
    ("2006-07-20", 54.0), ("2006-09-14", 50.6), ("2006-09-16", 70.0), ("2006-10-18", 72.0), ("2006-11-20", 69.5),
    ("2007-01-20", 68.5), ("2007-03-01", 68.0), ("2007-04-30", 67.5), ("2007-06-01", 66.6), ("2007-07-01", 61.0),
    ("2007-08-01", 55.0), ("2007-09-20", 51.0), ("2007-11-18", 51.0), ("2007-11-21", 68.0), ("2007-12-20", 69.0),
    ("2008-01-30", 70.0), ("2008-03-01", 68.0), ("2008-04-19", 71.0), ("2008-05-29", 73.0), ("2008-06-22", 68.0),
    ("2008-07-20", 62.0), ("2008-08-30", 55.0), ("2008-10-10", 50.0), ("2008-10-21", 72.0), ("2008-11-14", 74.0),
    ("2008-12-16", 73.0), ("2009-01-25", 75.0), ("2009-02-25", 72.0), ("2009-04-01", 70.0), ("2009-05-01", 68.0),
    ("2009-06-01", 64.0), ("2009-07-10", 58.0), ("2009-08-20", 53.0), ("2009-09-10", 52.0),
]

ST_MATHIEU = [
    ("2000-06-05", 66.6), ("2000-07-10", 57.0), ("2000-08-15", 50.0), ("2000-09-17", 46.3), ("2000-09-30", 47.0),
    ("2000-10-03", 72.0), ("2000-10-20", 79.0), ("2000-11-10", 73.0), ("2000-11-25", 82.0), ("2000-12-10", 74.0),
    ("2000-12-30", 90.0), ("2001-01-23", 106.0), ("2001-01-28", 85.0), ("2001-02-05", 94.0), ("2001-02-20", 80.0),
    ("2001-03-06", 94.0), ("2001-03-15", 82.0), ("2001-04-05", 72.0), ("2001-05-10", 68.0), ("2001-06-15", 60.0),
    ("2001-07-15", 54.0), ("2001-08-20", 50.0), ("2001-10-01", 48.0), ("2001-10-05", 94.3), ("2001-10-15", 86.0),
    ("2001-11-05", 80.0), ("2001-12-01", 73.0), ("2002-01-31", 78.0), ("2002-02-10", 74.0), ("2002-02-20", 77.0),
    ("2002-03-05", 75.0), ("2002-03-20", 76.0), ("2002-04-21", 73.0), ("2002-05-23", 72.0), ("2002-06-24", 65.0),
    ("2002-07-20", 57.0), ("2002-08-20", 50.0), ("2002-09-05", 49.0), ("2002-09-10", 93.0), ("2002-09-20", 82.0),
    ("2002-10-07", 94.0), ("2002-10-31", 88.0), ("2002-11-10", 80.0), ("2002-12-05", 85.0), ("2002-12-11", 128.9),
    ("2002-12-15", 90.0), ("2002-12-25", 84.0), ("2003-01-20", 80.0), ("2003-03-08", 79.0), ("2003-04-01", 74.6),
    ("2003-04-28", 72.0), ("2003-05-20", 66.0), ("2003-06-20", 59.0), ("2003-07-25", 52.0), ("2003-08-25", 48.0),
    ("2003-09-20", 47.0), ("2003-10-02", 82.0), ("2003-10-20", 75.0), ("2003-11-19", 112.8), ("2003-11-25", 95.0),
    ("2003-12-01", 102.0), ("2003-12-05", 125.5), ("2003-12-10", 95.0), ("2003-12-20", 86.0), ("2004-01-10", 90.0),
    ("2004-02-05", 82.0), ("2004-02-25", 93.0), ("2004-03-10", 84.0), ("2004-04-20", 80.0), ("2004-06-02", 74.6),
    ("2004-07-15", 72.0), ("2004-08-15", 60.0), ("2004-09-10", 51.0), ("2004-10-15", 50.0), ("2004-10-25", 93.7),
    ("2004-11-05", 82.0), ("2004-11-15", 76.0), ("2004-12-05", 75.8), ("2005-01-05", 72.0), ("2005-02-03", 68.5),
    ("2005-03-10", 61.0), ("2005-04-24", 56.0), ("2005-06-01", 53.0), ("2005-09-05", 50.6), ("2005-09-07", 101.7),
    ("2005-09-20", 85.0), ("2005-10-20", 82.0), ("2005-11-05", 79.5), ("2005-12-15", 80.0), ("2006-01-25", 90.0),
    ("2006-01-29", 108.0), ("2006-02-05", 95.0), ("2006-02-15", 82.0), ("2006-03-01", 76.0), ("2006-03-25", 70.0),
    ("2006-05-05", 65.0), ("2006-06-20", 57.0), ("2006-08-10", 52.0), ("2006-09-14", 51.0), ("2006-09-16", 88.0),
    ("2006-09-25", 82.0), ("2006-10-20", 78.0), ("2006-12-01", 75.5), ("2007-01-20", 74.6), ("2007-03-20", 73.5),
    ("2007-04-20", 74.6), ("2007-05-10", 72.0), ("2007-06-20", 69.0), ("2007-07-20", 62.0), ("2007-08-30", 55.0),
    ("2007-09-20", 51.0), ("2007-11-18", 50.6), ("2007-11-22", 75.8), ("2007-12-20", 73.0), ("2008-01-15", 75.8),
    ("2008-02-20", 78.0), ("2008-04-15", 92.0), ("2008-04-20", 80.0), ("2008-05-10", 95.6), ("2008-05-16", 85.0),
    ("2008-05-25", 80.0), ("2008-06-15", 74.6), ("2008-07-20", 66.0), ("2008-08-30", 57.0), ("2008-10-10", 51.0),
    ("2008-10-22", 100.0), ("2008-10-30", 88.0), ("2008-11-10", 105.0), ("2008-11-18", 90.0), ("2008-12-01", 98.0),
    ("2008-12-10", 88.0), ("2008-12-25", 105.0), ("2009-01-05", 92.0), ("2009-01-25", 96.0), ("2009-02-06", 120.0),
    ("2009-02-12", 90.0), ("2009-03-01", 94.3), ("2009-03-10", 86.0), ("2009-03-20", 87.0), ("2009-04-05", 80.0),
    ("2009-04-20", 77.0), ("2009-05-15", 70.0), ("2009-06-15", 62.0), ("2009-07-20", 55.0), ("2009-08-25", 51.0),
]

# x-axis ticks every 500 days starting 01/12/1996
TICK0 = "1996-12-01"
TICK_STEP_DAYS = 500
X_RANGE = ["1996-12-01", "2009-10-13"]
Y_RANGE = [30, 130]

# ---------------- styles ----------------
FONT = "Liberation Sans, Arial, sans-serif"
series = [
    # name, data, color, width, legend rank, show legend
    ("Sce des Fontaniles", FONTANILES, "#1F497D", 2.6, 0, False),
    ("Bois des Avants", BOIS_AVANTS, "#A6A6A6", 1.6, 8, True),
    ("Fontanès F2", FONTANES_F2, "#6B6BA6", 1.5, 7, True),
    ("CLARET", CLARET, "#0000FF", 1.5, 2, True),
    ("St Clément de Rivière", ST_CLEMENT, "#4F6228", 2.2, 5, True),
    ("St Gély les Vautes", ST_GELY, "#3B4019", 2.0, 9, True),
    ("Claret Brissac", CLARET_BRISSAC, "#62793A", 2.2, 4, True),
    ("Gour Noir", GOUR_NOIR, "#FF00FF", 1.6, 6, True),
    ("Source du Lez", LEZ, "#FF0000", 2.6, 1, True),
    ("Bois de St Mathieu", ST_MATHIEU, "#993300", 2.0, 10, True),
    ("FONTBONNE (FORAGE)", FONTBONNE, "#000000", 2.6, 3, True),
]

fig = go.Figure()
for name, pts, color, width, rank, show in series:
    fig.add_trace(go.Scatter(
        x=[p[0] for p in pts], y=[p[1] for p in pts], mode="lines", name=name,
        line=dict(color=color, width=width), connectgaps=False,
        showlegend=show, legendrank=rank,
    ))

fig.add_annotation(x="1998-09-11", y=86.6, text="Sce des Fontaniles", showarrow=False,
                   font=dict(family="Lato, Open Sans, sans-serif", size=16, color="#222222"))

# The page body has an 8px default margin, so the figure is sized 8px smaller
fig.update_layout(
    width=1069, height=685,
    margin=dict(l=80, r=5, t=12, b=125, autoexpand=False),
    paper_bgcolor="white", plot_bgcolor="white",
    font=dict(family=FONT, color="black"),
    showlegend=True,
    legend=dict(orientation="h", x=0.064, y=-0.107, xanchor="left", yanchor="top",
                entrywidth=161, entrywidthmode="pixels", borderwidth=0, bgcolor="rgba(0,0,0,0)",
                font=dict(family=FONT, size=14, color="black"), tracegroupgap=0, itemwidth=31),
    xaxis=dict(type="date", range=X_RANGE, tick0=TICK0, dtick=TICK_STEP_DAYS * 86400000,
               tickformat="%d/%m/%Y", ticks="outside", ticklen=5, tickcolor="black", automargin=False,
               showline=True, linecolor="black", linewidth=1, showgrid=False, zeroline=False,
               tickfont=dict(family=FONT, size=16, color="black")),
    yaxis=dict(range=Y_RANGE, dtick=10, ticks="outside", ticklen=5, tickcolor="black", automargin=False,
               showline=True, linecolor="black", linewidth=1, showgrid=True,
               gridcolor="#9C94C8", gridwidth=1, griddash="4px,3px", zeroline=False,
               tickfont=dict(family=FONT, size=16, color="black"),
               title=dict(text="<b>Piézométrie (m, NGF)</b>", font=dict(family=FONT, size=16), standoff=18)),
    shapes=[
        dict(type="line", xref="paper", yref="paper", x0=0, x1=1, y0=1, y1=1, line=dict(color="#808080", width=1)),
        dict(type="line", xref="paper", yref="paper", x0=1, x1=1, y0=0, y1=1, line=dict(color="#808080", width=1)),
        # legend frame, running to the right edge of the picture
        dict(type="rect", xref="paper", yref="paper", x0=0.058, x1=1.02, y0=-0.107, y1=-0.25,
             line=dict(color="#808080", width=1), fillcolor="rgba(0,0,0,0)"),
    ],
)

fig.write_html("out.html")
